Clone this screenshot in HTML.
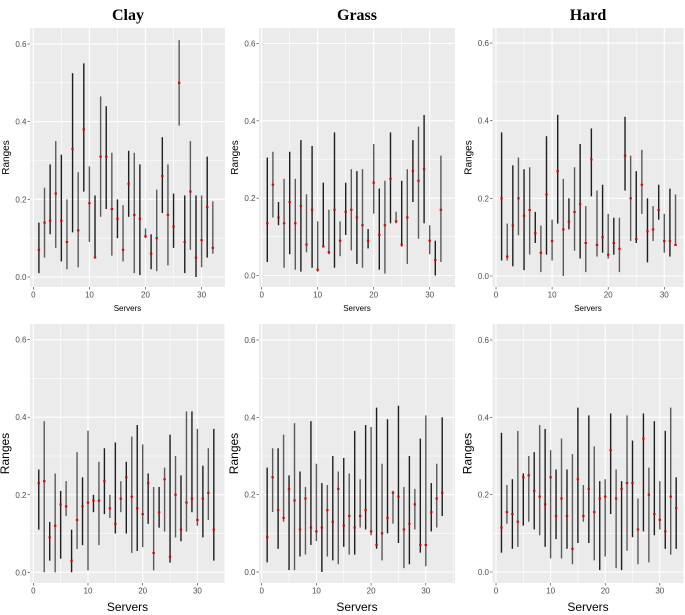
<!DOCTYPE html>
<html><head><meta charset="utf-8"><style>
body{margin:0;background:#fff;width:685px;height:615px;overflow:hidden}
svg{display:block}
</style></head><body>
<svg id="chart" width="685" height="615" xmlns="http://www.w3.org/2000/svg" font-family="Liberation Sans, sans-serif"></svg>
<script>
const yTicks = [0, 0.2, 0.4, 0.6];
const yTickLabels = ["0.0", "0.2", "0.4", "0.6"];
const xTicks = [0, 10, 20, 30];
const surfaces = ["Clay", "Grass", "Hard"];

const clayTopLo = [0.01,0.05,0.11,0.075,0.04,0.02,0.115,0.025,0.22,0.09,0.05,0.155,0.175,0.055,0.10,0.04,0.155,0.01,0.005,0.10,0.02,0.015,0.165,0.03,0.075,0.39,0.01,0.07,0.0,0.025,0.05,0.06];
const clayTopMid = [0.07,0.14,0.145,0.215,0.145,0.09,0.33,0.12,0.38,0.19,0.05,0.31,0.31,0.175,0.15,0.07,0.24,0.16,0.15,0.105,0.06,0.10,0.26,0.16,0.13,0.50,0.09,0.22,0.05,0.095,0.18,0.075];
const clayTopHi = [0.14,0.23,0.29,0.35,0.315,0.2,0.525,0.27,0.55,0.285,0.21,0.465,0.44,0.32,0.20,0.185,0.325,0.32,0.29,0.125,0.11,0.225,0.36,0.29,0.215,0.61,0.21,0.35,0.21,0.21,0.31,0.195];

const grassTopLo = [0.035,0.15,0.13,0.02,0.055,0.015,0.01,0.06,0.02,0.01,0.075,0.055,0.02,0.05,0.105,0.065,0.03,0.02,0.07,0.16,0.015,0.005,0.135,0.135,0.075,0.03,0.19,0.095,0.135,0.055,0.0,0.035];
const grassTopMid = [0.135,0.235,0.15,0.135,0.19,0.135,0.18,0.08,0.17,0.015,0.075,0.06,0.17,0.09,0.165,0.17,0.15,0.13,0.09,0.24,0.105,0.13,0.25,0.14,0.08,0.15,0.27,0.245,0.275,0.09,0.04,0.17];
const grassTopHi = [0.305,0.32,0.19,0.25,0.32,0.25,0.35,0.21,0.335,0.14,0.24,0.17,0.37,0.14,0.24,0.275,0.27,0.275,0.12,0.34,0.225,0.245,0.37,0.165,0.245,0.275,0.35,0.385,0.415,0.13,0.09,0.31];

const hardTopLo = [0.04,0.04,0.025,0.105,0.015,0.055,0.085,0.01,0.055,0.04,0.135,0.0,0.12,0.065,0.045,0.01,0.205,0.05,0.06,0.045,0.055,0.01,0.22,0.09,0.085,0.16,0.035,0.09,0.145,0.06,0.05,0.08];
const hardTopMid = [0.2,0.05,0.13,0.2,0.155,0.17,0.11,0.06,0.21,0.09,0.27,0.12,0.14,0.165,0.185,0.085,0.3,0.08,0.1,0.055,0.085,0.07,0.31,0.2,0.095,0.235,0.115,0.12,0.17,0.09,0.09,0.08];
const hardTopHi = [0.37,0.135,0.285,0.305,0.275,0.28,0.165,0.13,0.36,0.145,0.415,0.25,0.2,0.28,0.34,0.18,0.38,0.22,0.235,0.16,0.15,0.15,0.41,0.31,0.27,0.325,0.2,0.18,0.235,0.16,0.225,0.21];

const clayBotLo = [0.11,0.0,0.03,0.0,0.035,0.145,0.0,0.06,0.07,0.005,0.155,0.07,0.15,0.14,0.1,0.155,0.1,0.05,0.055,0.065,0.125,0.005,0.115,0.105,0.025,0.09,0.08,0.105,0.155,0.12,0.09,0.135,0.03];
const clayBotMid = [0.23,0.235,0.09,0.12,0.175,0.17,0.03,0.135,0.17,0.18,0.185,0.185,0.235,0.165,0.125,0.19,0.245,0.195,0.165,0.15,0.23,0.05,0.155,0.24,0.04,0.2,0.11,0.18,0.19,0.135,0.19,0.205,0.11];
const clayBotHi = [0.265,0.39,0.13,0.255,0.21,0.235,0.11,0.31,0.245,0.365,0.2,0.285,0.32,0.2,0.335,0.235,0.285,0.35,0.38,0.33,0.255,0.22,0.22,0.27,0.355,0.3,0.25,0.415,0.415,0.37,0.275,0.32,0.37];

const grassBotLo = [0.025,0.155,0.06,0.13,0.005,0.005,0.04,0.045,0.07,0.08,0.0,0.04,0.03,0.02,0.065,0.045,0.045,0.115,0.11,0.095,0.06,0.03,0.1,0.125,0.075,0.01,0.02,0.11,0.05,0.015,0.105,0.115,0.145];
const grassBotMid = [0.09,0.245,0.16,0.14,0.215,0.185,0.11,0.19,0.115,0.105,0.115,0.16,0.13,0.215,0.12,0.145,0.115,0.145,0.16,0.105,0.07,0.1,0.14,0.205,0.195,0.11,0.125,0.175,0.07,0.07,0.155,0.19,0.205];
const grassBotHi = [0.27,0.32,0.32,0.355,0.25,0.385,0.26,0.22,0.39,0.28,0.23,0.225,0.3,0.26,0.295,0.255,0.365,0.24,0.38,0.375,0.425,0.28,0.395,0.21,0.43,0.22,0.3,0.215,0.345,0.405,0.23,0.28,0.4];

const hardBotLo = [0.05,0.125,0.06,0.065,0.12,0.13,0.11,0.095,0.065,0.035,0.085,0.035,0.06,0.02,0.075,0.13,0.075,0.03,0.005,0.04,0.15,0.01,0.005,0.055,0.09,0.02,0.105,0.025,0.095,0.11,0.06,0.045,0.06];
const hardBotMid = [0.115,0.155,0.15,0.13,0.245,0.25,0.21,0.195,0.175,0.245,0.145,0.19,0.145,0.06,0.24,0.145,0.215,0.155,0.19,0.195,0.315,0.19,0.215,0.23,0.23,0.11,0.345,0.2,0.15,0.135,0.105,0.195,0.165];
const hardBotHi = [0.36,0.225,0.24,0.365,0.255,0.3,0.31,0.38,0.37,0.315,0.265,0.345,0.265,0.305,0.425,0.225,0.405,0.325,0.235,0.24,0.41,0.265,0.235,0.405,0.34,0.19,0.41,0.27,0.39,0.235,0.365,0.425,0.245];

const NS = "http://www.w3.org/2000/svg";
const svg = document.getElementById("chart");
function mk(tag, attrs, parent){
  const e = document.createElementNS(NS, tag);
  for (const k in attrs) e.setAttribute(k, attrs[k]);
  (parent||svg).appendChild(e);
  return e;
}

const panels = [
  {name:"clay-top", lo:clayTopLo, mid:clayTopMid, hi:clayTopHi, bx:30, bw:195, by:28, bh:259, x0:33.3, xu:5.61, y0:277, yu:388.3, big:false},
  {name:"grass-top", lo:grassTopLo, mid:grassTopMid, hi:grassTopHi, bx:259, bw:196, by:28, bh:259, x0:261.7, xu:5.6, y0:275.5, yu:386.7, big:false},
  {name:"hard-top", lo:hardTopLo, mid:hardTopMid, hi:hardTopHi, bx:492.5, bw:191, by:28, bh:259, x0:496, xu:5.61, y0:276, yu:388.3, big:false},
  {name:"clay-bottom", lo:clayBotLo, mid:clayBotMid, hi:clayBotHi, bx:30, bw:195, by:324, bh:259, x0:33.3, xu:5.47, y0:572.3, yu:387.7, big:true},
  {name:"grass-bottom", lo:grassBotLo, mid:grassBotMid, hi:grassBotHi, bx:259, bw:196, by:324, bh:259, x0:261.7, xu:5.47, y0:572, yu:386.7, big:true},
  {name:"hard-bottom", lo:hardBotLo, mid:hardBotMid, hi:hardBotHi, bx:492.5, bw:191, by:324, bh:259, x0:496, xu:5.46, y0:572, yu:386.7, big:true}
];

// titles
const titleX = [128, 357, 588];
surfaces.forEach((s,i)=>{
  const t = mk("text",{x:titleX[i], y:20, "text-anchor":"middle", "font-family":"Liberation Serif, serif", "font-weight":"bold", "font-size":"16"});
  
  
  t.textContent = s;
});

panels.forEach(p=>{
  const g = mk("g",{});
  
  
  const X = v => p.x0 + v*p.xu;
  const Y = v => p.y0 - v*p.yu;
  const bg = mk("rect",{x:p.bx, y:p.by, width:p.bw, height:p.bh, fill:"#ebebeb"}, g);
  
  
  // minor grid
  [0.1,0.3,0.5].forEach(v=>{
    const l = mk("line",{x1:p.bx, x2:p.bx+p.bw, y1:Y(v), y2:Y(v), stroke:"#fff", "stroke-width":"0.6"}, g);
    
    
  });
  [5,15,25,35].forEach(v=>{
    if (X(v) > p.bx+p.bw) return;
    const l = mk("line",{x1:X(v), x2:X(v), y1:p.by, y2:p.by+p.bh, stroke:"#fff", "stroke-width":"0.6"}, g);
    
    
  });
  yTicks.forEach((v,i)=>{
    const l = mk("line",{x1:p.bx, x2:p.bx+p.bw, y1:Y(v), y2:Y(v), stroke:"#fff", "stroke-width":"1.1"}, g);
    
    
    const tk = mk("line",{x1:p.bx-2.5, x2:p.bx, y1:Y(v), y2:Y(v), stroke:"#333", "stroke-width":"0.6"}, g);
    
    
    const t = mk("text",{x:p.bx-3.5, y:Y(v)+3, "text-anchor":"end", "font-size":"8", fill:"#4d4d4d"}, g);
    
    
    t.textContent = yTickLabels[i];
  });
  xTicks.forEach(v=>{
    const l = mk("line",{x1:X(v), x2:X(v), y1:p.by, y2:p.by+p.bh, stroke:"#fff", "stroke-width":"1.1"}, g);
    
    
    const tk = mk("line",{x1:X(v), x2:X(v), y1:p.by+p.bh, y2:p.by+p.bh+2.5, stroke:"#333", "stroke-width":"0.6"}, g);
    
    
    const t = mk("text",{x:X(v), y:p.by+p.bh+10.5, "text-anchor":"middle", "font-size":"8", fill:"#4d4d4d"}, g);
    
    
    t.textContent = String(v);
  });
  // bars
  p.lo.forEach((lo,i)=>{
    const x = X(i+1);
    const b = mk("line",{x1:x, x2:x, y1:Y(lo), y2:Y(p.hi[i]), stroke: i%2 ? "#5a5a5a" : "#1e1e1e", "stroke-width":"1.4"}, g);
    
    
    const m = mk("rect",{x:x-1.2, y:Y(p.mid[i])-1, width:2.4, height:2, fill:"#e00000"}, g);
    
    
  });
  // axis titles
  const cx = p.bx + p.bw/2;
  const xt = mk("text",{x:cx, y: p.big ? 611 : 311, "text-anchor":"middle", "font-size": p.big ? "12" : "8", fill:"#000"}, g);
  
  
  xt.textContent = "Servers";
  const yc = p.by + p.bh/2;
  const yx = p.bx - 21;
  const yt = mk("text",{x:yx, y:yc, "text-anchor":"middle", "font-size": p.big ? "12" : "10", fill:"#000", transform:`rotate(-90 ${yx} ${yc})`}, g);
  
  
  yt.textContent = "Ranges";
});
</script>
</body></html>
